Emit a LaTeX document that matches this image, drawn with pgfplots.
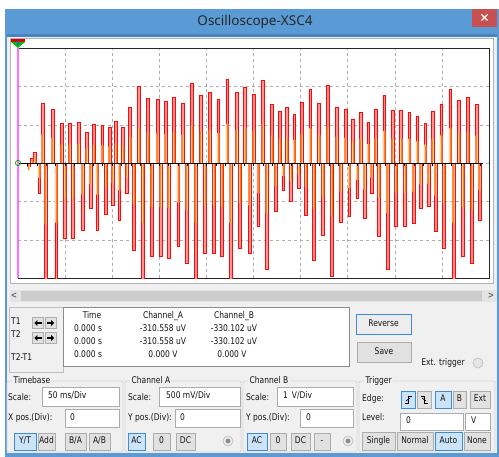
\documentclass[border=0pt]{standalone}
\usepackage{pgfplots}
\pgfplotsset{compat=1.18}
\usepackage{pgfplotstable}
\usepackage{fontspec}
\setmainfont{DejaVu Sans}[FakeStretch=0.82]
\newfontfamily\titlefont{Noto Sans}
\usetikzlibrary{arrows.meta}

\definecolor{winblue}{RGB}{91,155,213}
\definecolor{winblued}{RGB}{72,132,192}
\definecolor{panel}{RGB}{240,240,240}
\definecolor{closered}{RGB}{199,80,80}
\definecolor{gridgray}{RGB}{175,175,175}
\definecolor{sigred}{RGB}{250,10,10}
\definecolor{sigpink}{RGB}{255,145,145}
\definecolor{sigorange}{RGB}{255,140,0}
\definecolor{siglorange}{RGB}{255,205,160}
\definecolor{cursor}{RGB}{255,110,255}
\definecolor{btnfill}{RGB}{225,225,225}
\definecolor{btnline}{RGB}{173,173,173}
\definecolor{selfill}{RGB}{204,228,247}
\definecolor{selline}{RGB}{60,140,215}
\definecolor{boxline}{RGB}{170,172,178}
\definecolor{grpline}{RGB}{215,215,215}
\definecolor{txt}{RGB}{20,20,20}

% t in divisions (50 ms/Div), a = Channel A and b = Channel B in screen divisions
\pgfplotstableread{
t     a      b
0.23  -0.08  -0.18
0.30   0.12   0.05
0.36   0.30   0.14
0.45  -0.79  -0.38
0.52   1.57   0.74
0.59  -3.40  -1.60
0.73   1.40   0.66
0.81  -3.30  -1.55
0.93   1.04   0.49
1.00  -1.96  -0.92
1.10   1.05   0.49
1.17  -1.96  -0.92
1.29   1.07   0.50
1.37  -1.74  -0.82
1.46   0.81   0.38
1.54  -1.18  -0.55
1.61   1.03   0.48
1.68  -1.74  -0.82
1.79   0.99   0.47
1.87  -1.33  -0.63
1.94   0.94   0.44
2.01  -1.09  -0.51
2.08   1.10   0.52
2.15  -1.48  -0.70
2.23   0.93   0.44
2.31  -0.79  -0.37
2.38   1.46   0.69
2.46  -2.26  -1.06
2.57   2.01   0.94
2.65  -3.30  -1.55
2.76   1.70   0.80
2.84  -2.43  -1.14
2.96   1.66   0.78
3.03  -2.43  -1.14
3.13   1.61   0.76
3.20  -2.48  -1.17
3.31   1.72   0.81
3.40  -2.17  -1.02
3.49   1.57   0.74
3.58  -2.60  -1.22
3.69   2.09   0.98
3.77  -3.30  -1.55
3.88   1.77   0.83
3.97  -2.35  -1.10
4.07   1.85   0.87
4.16  -2.35  -1.10
4.25   1.68   0.79
4.33  -2.43  -1.14
4.44   2.20   1.03
4.51  -3.30  -1.55
4.64   1.85   0.87
4.71  -2.22  -1.04
4.82   1.98   0.93
4.91  -2.35  -1.10
5.00   1.80   0.85
5.10  -1.65  -0.78
5.19   2.17   1.02
5.28  -2.76  -1.30
5.39   1.53   0.72
5.47  -1.26  -0.59
5.56   1.35   0.63
5.63  -0.70  -0.33
5.71   1.46   0.69
5.79  -1.00  -0.47
5.86   1.29   0.61
5.96  -0.66  -0.31
6.02   1.59   0.75
6.11  -1.35  -0.63
6.20   1.94   0.91
6.28  -2.52  -1.18
6.39   1.57   0.74
6.47  -1.87  -0.88
6.57   2.04   0.96
6.66  -2.95  -1.39
6.76   1.46   0.69
6.85  -1.55  -0.73
6.95   1.40   0.66
7.03  -1.39  -0.65
7.11   1.16   0.55
7.20  -0.92  -0.43
7.27   1.33   0.63
7.35  -1.44  -0.68
7.43   1.07   0.50
7.50  -0.79  -0.37
7.59   1.42   0.67
7.66  -1.91  -0.90
7.77   1.78   0.84
7.84  -2.76  -1.30
7.95   1.38   0.65
8.02  -1.65  -0.78
8.13   1.38   0.65
8.21  -1.65  -0.78
8.30   1.33   0.63
8.39  -1.57  -0.74
8.47   1.22   0.57
8.54  -1.18  -0.55
8.64   1.05   0.49
8.71  -1.13  -0.53
8.80   1.36   0.64
8.86  -1.78  -0.84
8.98   1.55   0.73
9.04  -2.22  -1.04
9.17   1.94   0.91
9.24  -3.30  -1.55
9.36   1.65   0.78
9.44  -2.43  -1.14
9.55   1.72   0.81
9.63  -2.60  -1.22
9.73   1.53   0.72
9.79  -1.48  -0.70
}\scopedata

\tikzset{
  lbl/.style={inner sep=0pt, text height=6.5pt, text depth=1.8pt, text=txt},
  btn/.style={draw=btnline, fill=btnfill, line width=0.7pt},
  sel/.style={draw=selline, fill=selfill, line width=0.7pt},
  tbox/.style={draw=boxline, fill=white, line width=0.7pt},
}
% button: x1 y1 x2 y2 style text
\newcommand{\btn}[6]{%
  \draw[#5] (#1,#2) rectangle (#3,#4);
  \node[lbl] at ({(#1+#3)/2},{(#2+#4)/2}) {#6};}
% group frame: x1 y1 x2 y2 title
\newcommand{\grp}[5]{%
  \draw[grpline, line width=0.8pt, rounded corners=2pt] (#1,#2) rectangle (#3,#4);
  \node[lbl, fill=panel, inner xsep=1.5pt, anchor=west] at (#1+5,#2) {#5};}

\begin{document}
\begin{tikzpicture}[font=\fontsize{9.2}{10}\selectfont]
\useasboundingbox (0,0) rectangle (499pt,457pt);
\fill[white] (0,0) rectangle (499pt,457pt);

% window frame, title bar and screen surround (y counted downwards)
\begin{scope}[yshift=457pt, x=1pt, y=-1pt]
  \fill[winblue] (5,9) rectangle (499,457);
  \fill[winblued] (7,34.5) rectangle (497,37);
  \fill[panel] (7,37) rectangle (497,453);
  \fill[closered] (472,9) rectangle (497,27);
  \draw[white, line width=1.1pt] (481.5,14.5) -- (487.5,20.5) (481.5,20.5) -- (487.5,14.5);
  \node[inner sep=0pt, text=black!85] at (255,21.5)
       {\titlefont\fontsize{13.5}{15}\selectfont Oscilloscope-XSC4};
  \draw[fill=white, draw=black!30, line width=0.7pt] (10,38) rectangle (493,283);
\end{scope}

\begin{axis}[
  at={(18pt,178.7pt)}, anchor=south west,
  scale only axis, width=471.3pt, height=230pt,
  xmin=0, xmax=10, ymin=-3, ymax=3,
  xtick={1,...,9}, ytick={-2,...,2},
  xticklabels={}, yticklabels={},
  major tick length=0pt,
  xmajorgrids, ymajorgrids,
  grid style={gridgray, line width=0.9pt, dash pattern=on 3pt off 3pt},
  axis line style={black!85, line width=0.9pt},
]
  % Channel A
  \addplot[ybar, bar shift=0pt, bar width=2.8pt, draw=sigred, line width=0.55pt,
           fill=sigpink] table[x=t, y=a] {\scopedata};
  % Channel B
  \addplot[ybar, bar shift=0pt, bar width=2.2pt, draw=none,
           fill=siglorange] table[x=t, y=b] {\scopedata};
  \addplot[ycomb, mark=none, sigorange, line width=0.75pt] table[x=t, y=b] {\scopedata};
  % zero trace with its small ticks
  \draw[black, line width=1pt] (axis cs:0,0) -- (axis cs:9.86,0);
  \pgfplotsinvokeforeach{0.2,0.4,...,9.8}{
    \draw[black, line width=0.7pt] (axis cs:#1,0) -- (axis cs:#1,-0.08);
  }
\end{axis}

\begin{scope}[yshift=457pt, x=1pt, y=-1pt]
  % cursor and channel markers
  \draw[cursor, line width=1.6pt] (18,48.3) -- (18,278.3);
  \fill[red!85!black] (11,39.5) rectangle (25,42);
  \fill[green!75!black] (11,42) -- (25,42) -- (18,48) -- cycle;
  \fill[blue!70] (17.3,41) rectangle (18.7,45);
  \draw[green!70!black, line width=0.8pt] (18,163) circle (2.6);

  % scroll bar
  \fill[panel!95!black] (10,290.5) rectangle (497,302);
  \fill[black!20] (21,291) rectangle (482,301.5);
  \node[lbl, text=black!60] at (14,296) {\textbf{<}};
  \node[lbl, text=black!60] at (491,296) {\textbf{>}};

  % cursor readout
  \draw[black!25, line width=0.7pt] (9,307) rectangle (63,372);
  \node[lbl, anchor=west] at (11,322) {T1};
  \node[lbl, anchor=west] at (11,335) {T2};
  \node[lbl, anchor=west] at (11,358) {T2-T1};
  \foreach \yy in {323,338} {
    \draw[btn] (32.5,\yy-5.5) rectangle (43.5,\yy+5.5);
    \draw[btn] (45,\yy-5.5) rectangle (56,\yy+5.5);
    \draw[line width=1.5pt, -{Triangle[length=3pt,width=5.5pt]}] (41.5,\yy) -- (34.3,\yy);
    \draw[line width=1.5pt, -{Triangle[length=3pt,width=5.5pt]}] (47,\yy) -- (54.2,\yy);
  }
  \draw[fill=white, draw=black!45, line width=0.8pt] (63,307) rectangle (349,366);
  \node[lbl] at (92,316) {Time};
  \node[lbl] at (163,316) {Channel\_A};
  \node[lbl] at (234,316) {Channel\_B};
  \node[lbl] at (88,329) {0.000 s};
  \node[lbl] at (88,342) {0.000 s};
  \node[lbl] at (88,355.5) {0.000 s};
  \node[lbl] at (163,329) {-310.558 uV};
  \node[lbl] at (163,342) {-310.558 uV};
  \node[lbl] at (163,355.5) {0.000 V};
  \node[lbl] at (234,329) {-330.102 uV};
  \node[lbl] at (234,342) {-330.102 uV};
  \node[lbl] at (232,355.5) {0.000 V};

  \btn{356}{314}{411}{334}{draw=selline, fill=btnfill!60!white, line width=0.8pt}{Reverse}
  \btn{357}{342}{411}{362}{btn}{Save}
  \node[lbl] at (443,363) {Ext. trigger};
  \draw[fill=black!10, draw=black!25, line width=0.7pt] (478,363) circle (5);

  % Timebase
  \grp{7}{381}{123}{452}{Timebase}
  \node[lbl, anchor=west] at (8,398) {Scale:};
  \draw[tbox] (42,387) rectangle (119,406);
  \node[lbl, anchor=west] at (48,396.5) {50 ms/Div};
  \node[lbl, anchor=west] at (8,418) {X pos.(Div):};
  \draw[tbox] (65,409) rectangle (119,427);
  \node[lbl, anchor=west] at (70,418) {0};
  \btn{14}{433}{36}{450}{sel}{Y/T}
  \btn{38}{433}{55}{450}{btn}{Add}
  \btn{65}{433}{86}{450}{btn}{B/A}
  \btn{89}{433}{110}{450}{btn}{A/B}

  % Channel A
  \grp{125}{381}{241}{452}{Channel A}
  \node[lbl, anchor=west] at (128,398) {Scale:};
  \draw[tbox] (159,387) rectangle (240,406);
  \node[lbl, anchor=west] at (166,396.5) {500 mV/Div};
  \node[lbl, anchor=west] at (128,418) {Y pos.(Div):};
  \draw[tbox] (175,409) rectangle (240,427);
  \node[lbl, anchor=west] at (180,418) {0};
  \btn{128}{433}{145}{450}{sel}{AC}
  \btn{153}{433}{170}{450}{btn}{0}
  \btn{176}{433}{195}{450}{btn}{DC}
  \draw[fill=black!8, draw=black!25, line width=0.7pt] (228,441) circle (5);
  \fill[black!45] (228,441) circle (2.4);

  % Channel B
  \grp{243}{381}{357}{452}{Channel B}
  \node[lbl, anchor=west] at (246,398) {Scale:};
  \draw[tbox] (277,387) rectangle (353,406);
  \node[lbl, anchor=west] at (283,396.5) {1\,\ V/Div};
  \node[lbl, anchor=west] at (246,418) {Y pos.(Div):};
  \draw[tbox] (300,409) rectangle (353,427);
  \node[lbl, anchor=west] at (306,418) {0};
  \btn{247}{433}{267}{450}{sel}{AC}
  \btn{270}{433}{286}{450}{btn}{0}
  \btn{291}{433}{310}{450}{btn}{DC}
  \btn{314}{433}{330}{450}{btn}{-}
  \draw[fill=black!8, draw=black!25, line width=0.7pt] (348,441) circle (5);
  \fill[black!45] (348,441) circle (2.4);

  % Trigger
  \grp{359}{381}{495}{452}{Trigger}
  \node[lbl, anchor=west] at (362,399) {Edge:};
  \draw[sel] (401,391) rectangle (415,408);
  \draw[line width=0.9pt] (404.5,403) -- (408,403) -- (408,396) -- (411.5,396);
  \draw[line width=0.7pt] (406,401) -- (410,398);
  \draw[btn] (417,391) rectangle (431,408);
  \draw[line width=0.9pt] (420.5,396) -- (424,396) -- (424,403) -- (427.5,403);
  \draw[line width=0.7pt] (422,398) -- (426,401);
  \btn{435}{391}{451}{408}{sel}{A}
  \btn{453}{391}{466}{408}{btn}{B}
  \btn{470}{391}{490}{408}{btn}{Ext}
  \node[lbl, anchor=west] at (362,418.5) {Level:};
  \draw[tbox] (400,413) rectangle (463,430);
  \node[lbl, anchor=west] at (406,421.5) {0};
  \draw[tbox] (465,413) rectangle (490,430);
  \node[lbl, anchor=west] at (471,421.5) {V};
  \btn{362}{432}{395}{450}{btn}{Single}
  \btn{397}{432}{433}{450}{btn}{Normal}
  \btn{435}{432}{462}{450}{sel}{Auto}
  \btn{464}{432}{490}{450}{btn}{None}
\end{scope}
\end{tikzpicture}
\end{document}
